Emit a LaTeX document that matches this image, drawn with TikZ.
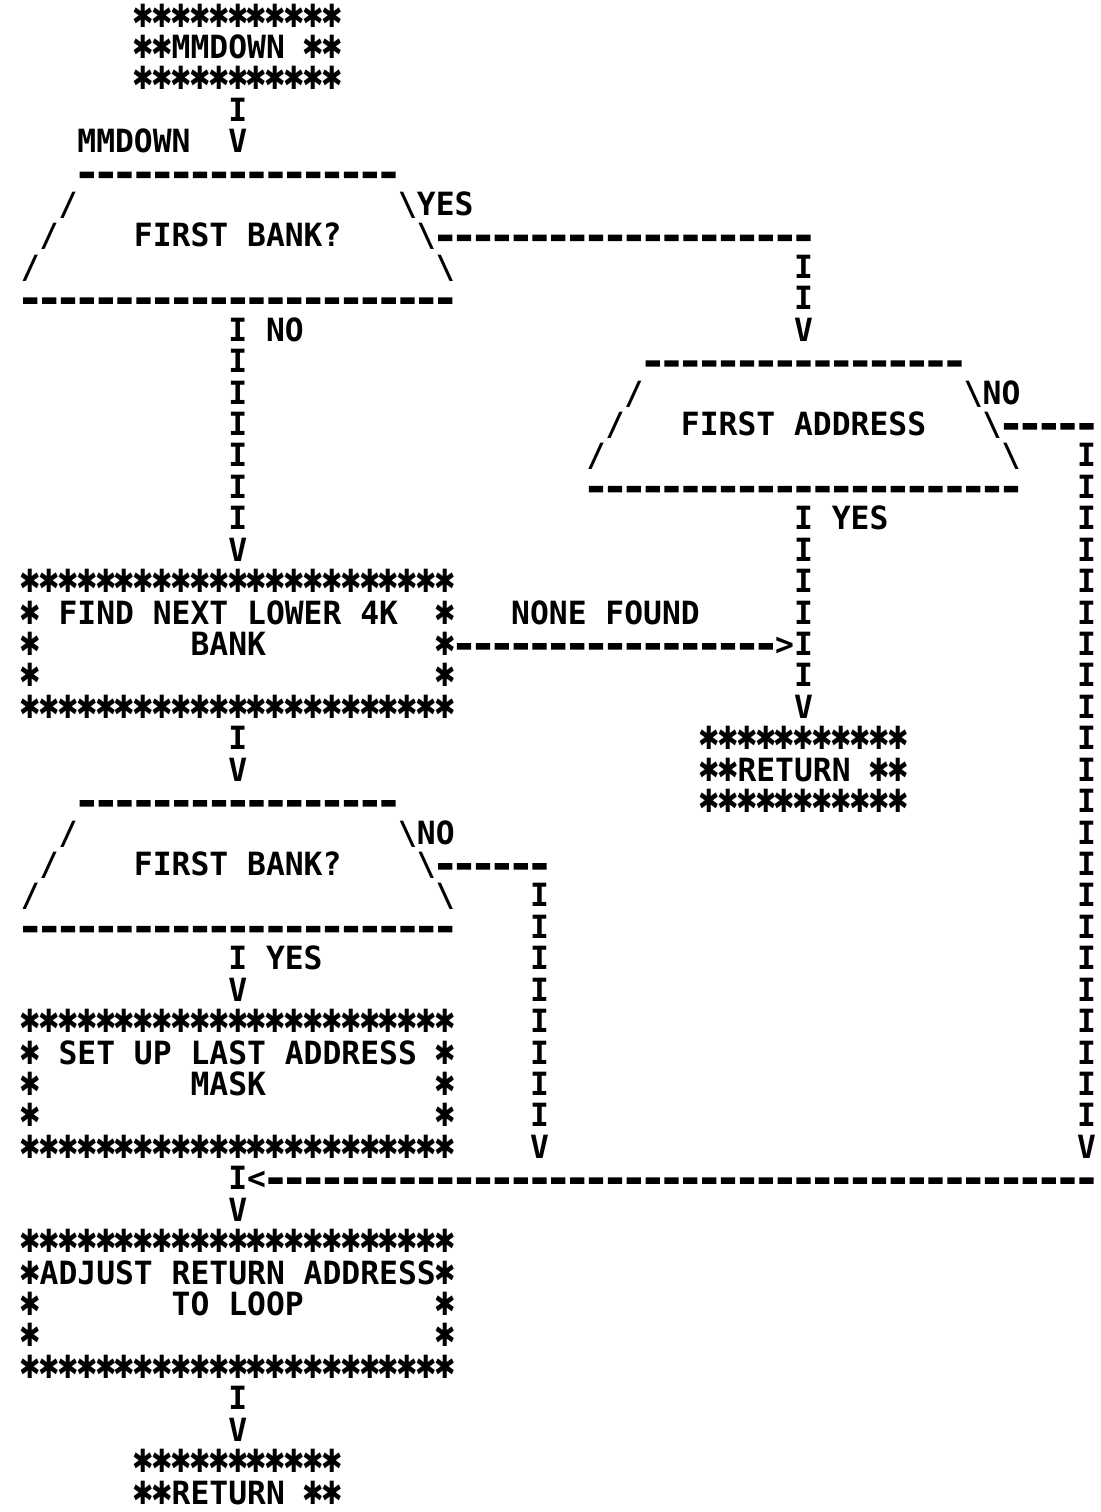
\documentclass[tikz,border=0pt]{standalone}
\usepackage{fontspec}
\usepackage{tikz}

\newfontfamily\plotfam[FakeStretch=0.979]{DejaVu Sans Mono}
\newfontfamily\starfam[FakeStretch=0.8]{DejaVu Sans}
\newfontfamily\dashfam[FakeBold=6,FakeStretch=1.25]{DejaVu Sans Mono}
\newcommand\plotfont{\plotfam\bfseries\fontsize{24pt}{24pt}\selectfont}
% one printer star, one dash, and runs of them
\newcommand\st{\sbox0{0}\makebox[\wd0][c]{\starfam ✱}}
\newcommand\dsh{\sbox0{0}\makebox[\wd0][c]{\dashfam\bfseries -}}
\newcommand\starrow[1]{\foreach\sk in {1,...,#1}{\st}}
\newcommand\dashes[1]{\foreach\dk in {1,...,#1}{\dsh}}
\newcommand\bs{\textbackslash}

\begin{document}
\begin{tikzpicture}[
    x=14.145pt, y=23.57pt,
    txt/.style={font=\plotfont, inner sep=0pt, anchor=base west}
  ]
    \useasboundingbox (-1.5907,0.8591) rectangle (56.786,-47.253);

    % Entry box
    \node[txt] (mmtop) at (5.5,0) {\starrow{11}};
    \node[txt] (mmdown) at (5.5,-1) {\st\st MMDOWN \st\st};
    \node[txt] (mmbot) at (5.5,-2) {\starrow{11}};
    \node[txt] (e1) at (10.5,-3) {I};
    \node[txt] (entry) at (2.5,-4) {MMDOWN};
    \node[txt] (e2) at (10.5,-4) {V};

    % First bank? (upper)
    \node[txt] (qa-top) at (2.5,-5) {\dashes{17}};
    \node[txt] (qa-l1) at (1.5,-6) {/};
    \node[txt] (qa-r1) at (19.5,-6) {\bs};
    \node[txt] (qa-yes) at (20.5,-6) {YES};
    \node[txt] (qa-l2) at (0.5,-7) {/};
    \node[txt] (bank1) at (5.5,-7) {FIRST BANK?};
    \node[txt] (qa-r2) at (20.5,-7) {\bs};
    \node[txt] (qa-out) at (21.5,-7) {\dashes{20}};
    \node[txt] (qa-l3) at (-0.5,-8) {/};
    \node[txt] (qa-r3) at (21.5,-8) {\bs};
    \node[txt] (qa-bot) at (-0.5,-9) {\dashes{23}};
    \node[txt] (qa-no) at (12.5,-10) {NO};
    \foreach \r in {10,...,16} \node[txt] (qa-i\r) at (10.5,-\r) {I};
    \node[txt] (qa-v) at (10.5,-17) {V};
    \foreach \r in {8,9} \node[txt] (ya-i\r) at (40.5,-\r) {I};
    \node[txt] (ya-v) at (40.5,-10) {V};

    % First address
    \node[txt] (qb-top) at (32.5,-11) {\dashes{17}};
    \node[txt] (qb-l1) at (31.5,-12) {/};
    \node[txt] (qb-r1) at (49.5,-12) {\bs};
    \node[txt] (qb-no) at (50.5,-12) {NO};
    \node[txt] (qb-l2) at (30.5,-13) {/};
    \node[txt] (addr) at (34.5,-13) {FIRST ADDRESS};
    \node[txt] (qb-r2) at (50.5,-13) {\bs};
    \node[txt] (qb-out) at (51.5,-13) {\dashes{5}};
    \node[txt] (qb-l3) at (29.5,-14) {/};
    \node[txt] (qb-r3) at (51.5,-14) {\bs};
    \node[txt] (qb-bot) at (29.5,-15) {\dashes{23}};
    \node[txt] (qb-yes) at (42.5,-16) {YES};
    \foreach \r in {16,...,21} \node[txt] (qb-i\r) at (40.5,-\r) {I};
    \node[txt] (qb-v) at (40.5,-22) {V};
    \foreach \r in {14,...,35} \node[txt] (nb-i\r) at (55.5,-\r) {I};
    \node[txt] (nb-v) at (55.5,-36) {V};

    % Find next lower bank
    \node[txt] (fd-top) at (-0.5,-18) {\starrow{23}};
    \node[txt] (fd-l1) at (-0.5,-19) {\st};
    \node[txt] (find) at (1.5,-19) {FIND NEXT LOWER 4K};
    \node[txt] (fd-r1) at (21.5,-19) {\st};
    \node[txt] (fd-l2) at (-0.5,-20) {\st};
    \node[txt] (find2) at (8.5,-20) {BANK};
    \node[txt] (fd-r2) at (21.5,-20) {\st};
    \node[txt] (fd-l3) at (-0.5,-21) {\st};
    \node[txt] (fd-r3) at (21.5,-21) {\st};
    \node[txt] (fd-bot) at (-0.5,-22) {\starrow{23}};
    \node[txt] (none) at (25.5,-19) {NONE FOUND};
    \node[txt] (nf-line) at (22.5,-20) {\dashes{17}};
    \node[txt] (nf-tip) at (39.5,-20) {>};
    \node[txt] (fd-i) at (10.5,-23) {I};
    \node[txt] (fd-v) at (10.5,-24) {V};

    % Return (right)
    \node[txt] (rt1-top) at (35.5,-23) {\starrow{11}};
    \node[txt] (ret1) at (35.5,-24) {\st\st RETURN \st\st};
    \node[txt] (rt1-bot) at (35.5,-25) {\starrow{11}};

    % First bank? (lower)
    \node[txt] (qc-top) at (2.5,-25) {\dashes{17}};
    \node[txt] (qc-l1) at (1.5,-26) {/};
    \node[txt] (qc-r1) at (19.5,-26) {\bs};
    \node[txt] (qc-no) at (20.5,-26) {NO};
    \node[txt] (qc-l2) at (0.5,-27) {/};
    \node[txt] (bank2) at (5.5,-27) {FIRST BANK?};
    \node[txt] (qc-r2) at (20.5,-27) {\bs};
    \node[txt] (qc-out) at (21.5,-27) {\dashes{6}};
    \node[txt] (qc-l3) at (-0.5,-28) {/};
    \node[txt] (qc-r3) at (21.5,-28) {\bs};
    \node[txt] (qc-bot) at (-0.5,-29) {\dashes{23}};
    \foreach \r in {28,...,35} \node[txt] (nc-i\r) at (26.5,-\r) {I};
    \node[txt] (nc-v) at (26.5,-36) {V};
    \node[txt] (qc-i) at (10.5,-30) {I};
    \node[txt] (qc-yes) at (12.5,-30) {YES};
    \node[txt] (qc-v) at (10.5,-31) {V};

    % Set up last address mask
    \node[txt] (sm-top) at (-0.5,-32) {\starrow{23}};
    \node[txt] (sm-l1) at (-0.5,-33) {\st};
    \node[txt] (mask) at (1.5,-33) {SET UP LAST ADDRESS};
    \node[txt] (sm-r1) at (21.5,-33) {\st};
    \node[txt] (sm-l2) at (-0.5,-34) {\st};
    \node[txt] (mask2) at (8.5,-34) {MASK};
    \node[txt] (sm-r2) at (21.5,-34) {\st};
    \node[txt] (sm-l3) at (-0.5,-35) {\st};
    \node[txt] (sm-r3) at (21.5,-35) {\st};
    \node[txt] (sm-bot) at (-0.5,-36) {\starrow{23}};

    % Join
    \node[txt] (jn-i) at (10.5,-37) {I};
    \node[txt] (jn-tip) at (11.5,-37) {<};
    \node[txt] (jn-line) at (12.5,-37) {\dashes{44}};
    \node[txt] (jn-v) at (10.5,-38) {V};

    % Adjust return address
    \node[txt] (aj-top) at (-0.5,-39) {\starrow{23}};
    \node[txt] (adjust) at (-0.5,-40) {\st ADJUST RETURN ADDRESS\st};
    \node[txt] (aj-l2) at (-0.5,-41) {\st};
    \node[txt] (adjust2) at (7.5,-41) {TO LOOP};
    \node[txt] (aj-r2) at (21.5,-41) {\st};
    \node[txt] (aj-l3) at (-0.5,-42) {\st};
    \node[txt] (aj-r3) at (21.5,-42) {\st};
    \node[txt] (aj-bot) at (-0.5,-43) {\starrow{23}};
    \node[txt] (aj-i) at (10.5,-44) {I};
    \node[txt] (aj-v) at (10.5,-45) {V};

    % Return (bottom)
    \node[txt] (rt2-top) at (5.5,-46) {\starrow{11}};
    \node[txt] (ret2) at (5.5,-47) {\st\st RETURN \st\st};

  \end{tikzpicture}
\end{document}
